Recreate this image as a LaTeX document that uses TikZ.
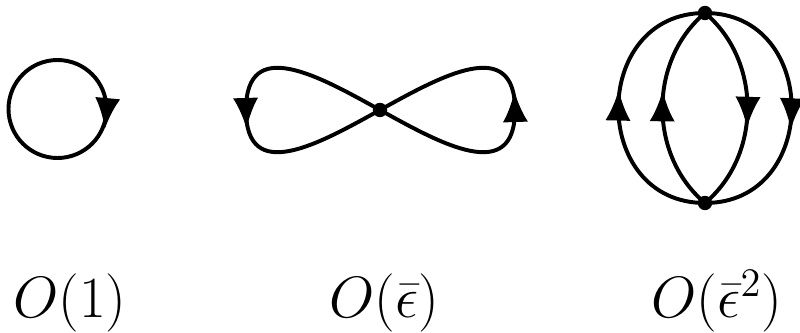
\documentclass[tikz,border=0pt]{standalone}
\usetikzlibrary{arrows.meta, decorations.markings}
\begin{document}
\begin{tikzpicture}[x=0.0125cm, y=0.0125cm, line width=1.4pt,
  vtx/.style={circle, fill, inner sep=0pt, minimum size=0.18cm},
  lbl/.style={font=\huge, anchor=base},
  arr/.style={postaction={decorate}, decoration={markings, mark=at position #1 with {\arrow[xshift=5.5pt]{Latex[length=11pt,width=9pt]}}}}
]
  \useasboundingbox (0,0) rectangle (800,333);
  % order 1
  \coordinate (c1) at (57.5,224);
  \draw[arr=0.265] (c1) ++(90:49) arc[start angle=90, end angle=-270, radius=49];
  % order eps
  \node[vtx] (v) at (380,223) {};
  \coordinate (eL) at (246,223);
  \coordinate (eR) at (515,223);
  \draw[arr=0.51] (v.center) .. controls +(151:70) and +(0,75) .. (eL) .. controls +(0,-75) and +(209:70) .. (v.center);
  \draw[arr=0.51] (v.center) .. controls +(-29:70) and +(0,-75) .. (eR) .. controls +(0,75) and +(29:70) .. (v.center);
  % order eps^2
  \node[vtx] (top) at (705,320) {};
  \node[vtx] (bot) at (705,130) {};
  \draw[arr=0.51] (bot.center) to[out=180, in=180, looseness=1.56] (top.center);
  \draw[arr=0.51] (bot.center) to[bend left=50] (top.center);
  \draw[arr=0.52] (top.center) to[bend left=50] (bot.center);
  \draw[arr=0.52] (top.center) to[out=0, in=0, looseness=1.56] (bot.center);
  % labels
  \node[lbl] (o1) at (70,15) {$O(1)$};
  \node[lbl] (o2) at (384,15) {$O(\bar{\epsilon})$};
  \node[lbl] (o3) at (717,15) {$O(\bar{\epsilon}^2)$};
\end{tikzpicture}
\end{document}
